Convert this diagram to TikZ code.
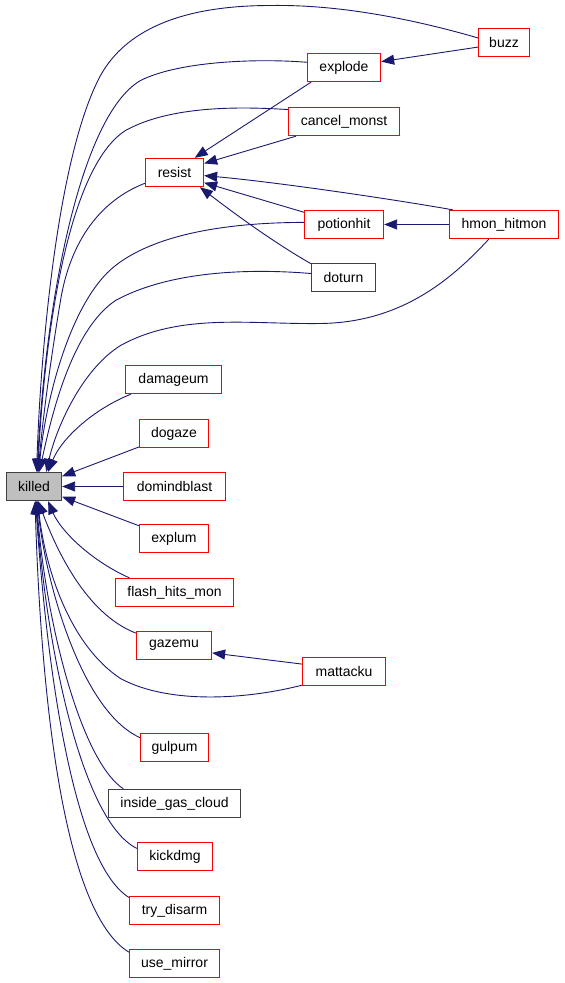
\documentclass[tikz,border=0pt]{standalone}
\usepackage{fontspec}
\setmainfont{Liberation Sans}
\usetikzlibrary{arrows.meta}
\definecolor{edgec}{HTML}{191970}
\definecolor{nodered}{HTML}{FF0000}
\definecolor{nodegray}{HTML}{404040}
\begin{document}
\begin{tikzpicture}[x=1pt,y=-1pt,
  fn/.style={draw=nodered, line width=1.3pt, fill=white, minimum height=28pt, inner sep=0pt, font=\fontsize{14}{16}\selectfont, text=black},
  fb/.style={fn, draw=nodegray},
  fk/.style={fn, draw=nodegray, fill=black!25},
  edge/.style={draw=edgec, line width=0.9pt, -{Triangle[length=13pt,width=10pt]}}]
\useasboundingbox (0,0) rectangle (565,983);
\begin{scope}[shift={(0.5,0.5)}]
% nodes
\node[fk, minimum width=55pt] (killed) at (33.5,486) {killed};
\node[fn, minimum width=51pt] (buzz) at (503.5,42) {buzz};
\node[fn, minimum width=73pt] (explode) at (343.5,67) {explode};
\node[fn, minimum width=111pt] (cancel_monst) at (343.5,121) {cancel\_monst};
\node[fn, minimum width=58pt] (resist) at (174,172) {resist};
\node[fn, minimum width=79pt] (potionhit) at (343.5,224) {potionhit};
\node[fn, minimum width=109pt] (hmon_hitmon) at (503.5,224) {hmon\_hitmon};
\node[fb, minimum width=64pt] (doturn) at (343,277) {doturn};
\node[fn, minimum width=96pt] (damageum) at (173,379) {damageum};
\node[fn, minimum width=69pt] (dogaze) at (173.5,433) {dogaze};
\node[fn, minimum width=102pt] (domindblast) at (174,486) {domindblast};
\node[fn, minimum width=69pt] (explum) at (173.5,538) {explum};
\node[fn, minimum width=118pt] (flash_hits_mon) at (174,592) {flash\_hits\_mon};
\node[fn, minimum width=75pt] (gazemu) at (173.5,645) {gazemu};
\node[fn, minimum width=83pt] (mattacku) at (343.5,671) {mattacku};
\node[fn, minimum width=68pt] (gulpum) at (174,747) {gulpum};
\node[fb, minimum width=132pt] (inside_gas_cloud) at (174,803) {inside\_gas\_cloud};
\node[fn, minimum width=75pt] (kickdmg) at (174.5,856) {kickdmg};
\node[fn, minimum width=90pt] (try_disarm) at (174,910) {try\_disarm};
\node[fn, minimum width=90pt] (use_mirror) at (174,963) {use\_mirror};
% edges to killed (upper group)
\draw[edge] (buzz.170) .. controls (400,15) and (330,4) .. (270,5)
  .. controls (180,5) and (125,30) .. (100,75)
  .. controls (57,155) and (40,350) .. (killed.80);
\draw[edge] (explode.172) .. controls (260,58) and (180,60) .. (140,80)
  .. controls (80,115) and (45,300) .. (killed.78);
\draw[edge] (cancel_monst.168) .. controls (240,106) and (170,105) .. (125,130)
  .. controls (70,165) and (45,320) .. (killed.76);
\draw[edge] (resist.200) .. controls (100,200) and (70,240) .. (60,300)
  .. controls (50,360) and (42,420) .. (killed.74);
\draw[edge] (potionhit.177) .. controls (240,222) and (160,230) .. (115,265)
  .. controls (70,300) and (45,400) .. (killed.72);
\draw[edge] (doturn.173) .. controls (250,268) and (170,270) .. (115,300)
  .. controls (70,330) and (50,420) .. (killed.70);
\draw[edge] (hmon_hitmon.224) .. controls (450,280) and (400,322) .. (320,323)
  .. controls (250,324) and (180,312) .. (120,345)
  .. controls (80,370) and (55,430) .. (killed.50);
\draw[edge] (damageum.199) .. controls (90,410) and (60,440) .. (killed.46);
\draw[edge] (dogaze.201) -- (killed.20);
\draw[edge] (domindblast.west) -- (killed.east);
\draw[edge] (explum.160) -- (killed.-20);
% lower group
\draw[edge] (flash_hits_mon.162) .. controls (90,560) and (60,530) .. (killed.-46);
\draw[edge] (gazemu.162) .. controls (90,615) and (60,560) .. (killed.-74);
\draw[edge] (mattacku.198) .. controls (250,698) and (170,705) .. (120,678)
  .. controls (70,645) and (45,570) .. (killed.-76);
\draw[edge] (gulpum.164) .. controls (80,710) and (45,580) .. (killed.-78);
\draw[edge] (inside_gas_cloud.164) .. controls (80,760) and (45,620) .. (killed.-80);
\draw[edge] (kickdmg.168) .. controls (80,820) and (45,640) .. (killed.-82);
\draw[edge] (try_disarm.164) .. controls (70,860) and (45,650) .. (killed.-84);
\draw[edge] (use_mirror.166) .. controls (60,910) and (40,680) .. (killed.-86);
% edges to other nodes
\draw[edge] (buzz.190) -- (explode.9);
\draw[edge] (explode.204) -- (resist.36);
\draw[edge] (cancel_monst.197) -- (resist.17);
\draw[edge] (hmon_hitmon.164) .. controls (400,200) and (280,182) .. (resist.-6);
\draw[edge] (potionhit.163) -- (resist.-19);
\draw[edge] (doturn.157) .. controls (270,240) and (230,210) .. (resist.-30);
\draw[edge] (hmon_hitmon.west) -- (potionhit.east);
\draw[edge] (mattacku.170) -- (gazemu.-11);
\end{scope}
\end{tikzpicture}
\end{document}
